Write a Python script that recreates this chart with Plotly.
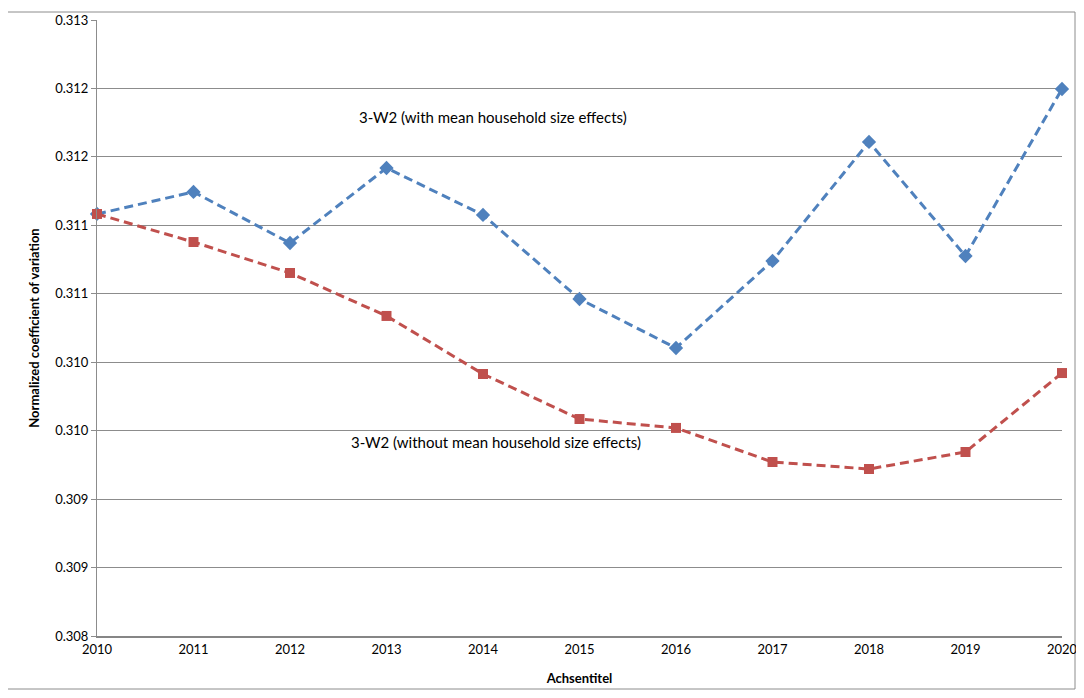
import plotly.graph_objects as go

years = [2010, 2011, 2012, 2013, 2014, 2015, 2016, 2017, 2018, 2019, 2020]
with_size = [0.311083, 0.311244, 0.310871, 0.311419, 0.311076, 0.310462,
             0.310104, 0.310740, 0.311609, 0.310776, 0.311996]
without_size = [0.311083, 0.310878, 0.310652, 0.310338, 0.309914, 0.309585,
                0.309520, 0.309271, 0.309220, 0.309344, 0.309921]
y_tick_vals = [0.3080, 0.3085, 0.3090, 0.3095, 0.3100, 0.3105, 0.3110, 0.3115, 0.3120, 0.3125]
y_tick_text = ["0.308", "0.309", "0.309", "0.310", "0.310", "0.311", "0.311", "0.312", "0.312", "0.313"]
label_with = "3-W2 (with mean household size effects)"
label_without = "3-W2 (without mean household size effects)"

FONT = "Lato, Open Sans, sans-serif"

fig = go.Figure()
fig.add_trace(go.Scatter(
    x=years, y=with_size, mode="lines+markers", name=label_with,
    line=dict(color="#4F81BD", width=3, dash="9px,5px"),
    marker=dict(symbol="diamond", size=11, color="#4F81BD"),
    cliponaxis=False,
))
fig.add_trace(go.Scatter(
    x=years, y=without_size, mode="lines+markers", name=label_without,
    line=dict(color="#C0504D", width=3, dash="9px,5px"),
    marker=dict(symbol="square", size=10, color="#C0504D"),
    cliponaxis=False,
))

fig.update_layout(
    width=1076, height=690,
    margin=dict(l=89, r=22, t=12, b=62),
    paper_bgcolor="white", plot_bgcolor="white",
    showlegend=False,
    font=dict(family=FONT, size=13, color="black"),
    xaxis=dict(
        range=[2010, 2020], tickmode="array", tickvals=years,
        showgrid=False, zeroline=False, automargin=False,
        showline=True, linecolor="#868686", linewidth=2,
        ticks="", tickfont=dict(size=13),
        title=dict(text="<b>Achsentitel</b>", font=dict(size=13), standoff=18),
    ),
    yaxis=dict(
        range=[0.3080, 0.3125], tickmode="array",
        tickvals=y_tick_vals, ticktext=y_tick_text,
        showgrid=True, gridcolor="#8C8C8C", gridwidth=1,
        zeroline=False, showline=True, linecolor="#8C8C8C", linewidth=1,
        ticks="outside", ticklen=5, tickcolor="#8C8C8C", automargin=False,
        tickfont=dict(size=13),
        title=dict(text="<b>Normalized coefficient of variation</b>", font=dict(size=13), standoff=12),
    ),
    annotations=[
        dict(xref="paper", yref="paper", x=0.410, y=0.8425, text=label_with,
             showarrow=False, font=dict(size=15), xanchor="center", yanchor="middle"),
        dict(xref="paper", yref="paper", x=0.413, y=0.315, text=label_without,
             showarrow=False, font=dict(size=15), xanchor="center", yanchor="middle"),
    ],
    shapes=[
        dict(type="rect", xref="paper", yref="paper",
             x0=-90 / 965, x1=1.0 + 13 / 965, y0=-53 / 616, y1=1.0 + 8 / 616,
             line=dict(color="#8C8C8C", width=1), fillcolor="rgba(0,0,0,0)", layer="below"),
    ],
)

fig.write_html("out.html")
